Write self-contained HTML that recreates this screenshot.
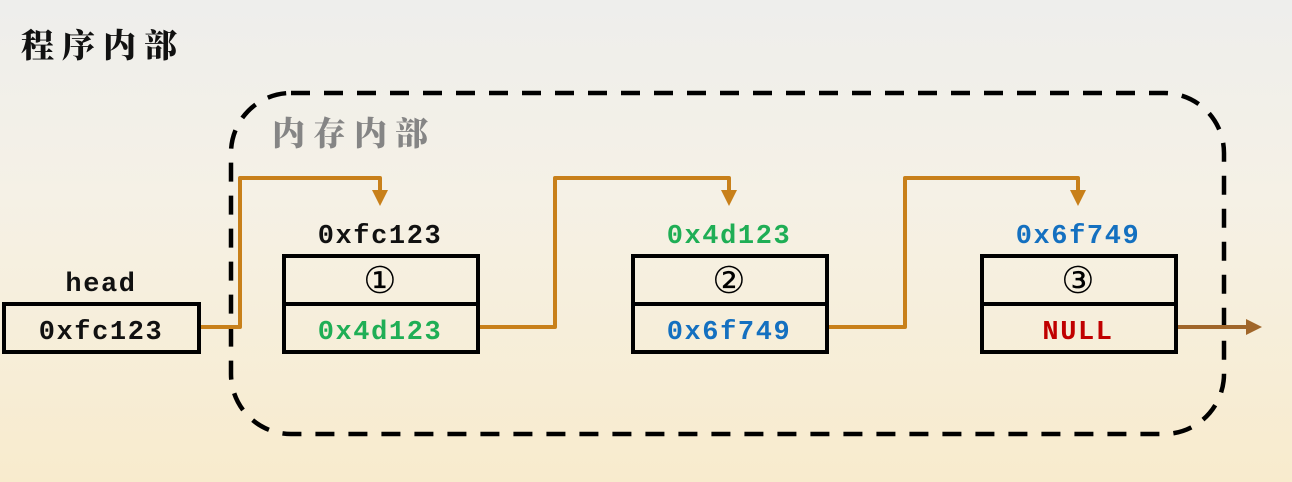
<!DOCTYPE html>
<html><head><meta charset="utf-8"><style>
html,body{margin:0;padding:0;width:1292px;height:482px;overflow:hidden}
svg{display:block}
.mono{font-family:"Liberation Mono",monospace;font-weight:bold;font-size:27px;letter-spacing:1.6px}
.cjk{font-family:"Noto Serif CJK SC","Liberation Serif",serif;font-weight:900;font-size:33px;letter-spacing:8px}
.circ{font-family:"DejaVu Sans",sans-serif;font-size:37px}
</style></head><body>
<svg width="1292" height="482" viewBox="0 0 1292 482">
<defs>
<linearGradient id="bg" x1="0" y1="0" x2="0" y2="1">
<stop offset="0" stop-color="#eeeeec"/><stop offset="0.4" stop-color="#f5f1e6"/><stop offset="1" stop-color="#f8ebcd"/>
</linearGradient>
</defs>
<rect width="1292" height="482" fill="url(#bg)"/>
<text x="21" y="57" class="cjk" fill="#111">程序内部</text>
<rect x="231" y="93" width="993" height="341" rx="60" fill="none" stroke="#000" stroke-width="4.5" stroke-dasharray="19 14"/>
<text x="272" y="145" class="cjk" fill="#858585">内存内部</text>

<g fill="none" stroke="#c8801a" stroke-width="4" stroke-linejoin="round">
<polyline points="200,327 240,327 240,178 380,178 380,192"/>
<polyline points="479,327 555,327 555,178 729,178 729,192"/>
<polyline points="828,327 905,327 905,178 1078,178 1078,192"/>
</g>
<g fill="#c8801a">
<polygon points="372,190 388,190 380,206"/>
<polygon points="721,190 737,190 729,206"/>
<polygon points="1070,190 1086,190 1078,206"/>
</g>
<line x1="1177" y1="327" x2="1248" y2="327" stroke="#a0662a" stroke-width="4"/>
<polygon points="1246,319 1262,327 1246,335" fill="#a0662a"/>

<text x="101" y="291" text-anchor="middle" class="mono" fill="#111">head</text>
<rect x="4" y="304" width="195" height="48" fill="none" stroke="#000" stroke-width="4"/>
<text x="101" y="339" text-anchor="middle" class="mono" fill="#111">0xfc123</text>

<g>
<text x="380" y="243" text-anchor="middle" class="mono" fill="#111">0xfc123</text>
<rect x="284" y="256" width="194" height="96" fill="none" stroke="#000" stroke-width="4"/>
<line x1="284" y1="304" x2="478" y2="304" stroke="#000" stroke-width="4"/>
<text x="380" y="293" text-anchor="middle" class="circ" fill="#000">①</text>
<text x="380" y="339" text-anchor="middle" class="mono" fill="#1fae55">0x4d123</text>
</g>
<g>
<text x="729" y="243" text-anchor="middle" class="mono" fill="#1fae55">0x4d123</text>
<rect x="633" y="256" width="194" height="96" fill="none" stroke="#000" stroke-width="4"/>
<line x1="633" y1="304" x2="827" y2="304" stroke="#000" stroke-width="4"/>
<text x="729" y="293" text-anchor="middle" class="circ" fill="#000">②</text>
<text x="729" y="339" text-anchor="middle" class="mono" fill="#1470c0">0x6f749</text>
</g>
<g>
<text x="1078" y="243" text-anchor="middle" class="mono" fill="#1470c0">0x6f749</text>
<rect x="982" y="256" width="194" height="96" fill="none" stroke="#000" stroke-width="4"/>
<line x1="982" y1="304" x2="1176" y2="304" stroke="#000" stroke-width="4"/>
<text x="1078" y="293" text-anchor="middle" class="circ" fill="#000">③</text>
<text x="1078" y="339" text-anchor="middle" class="mono" fill="#c00000">NULL</text>
</g>
</svg>
</body></html>
